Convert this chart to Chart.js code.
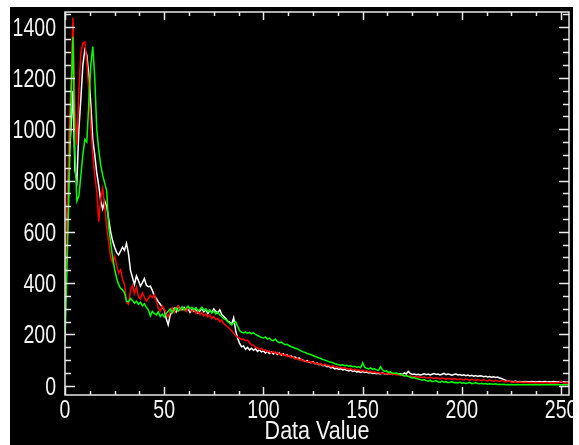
<!DOCTYPE html>
<html>
<head>
<meta charset="utf-8">
<script src="https://cdn.jsdelivr.net/npm/chart.js@4.4.1/dist/chart.umd.min.js"></script>
<style>
  html, body { margin: 0; padding: 0; background: #ffffff; }
  #box { position: absolute; left: 0; top: 0; width: 579px; height: 445px; }
</style>
</head>
<body>
<div id="box"><canvas id="hist"></canvas></div>
<script>
// histogram counts per data value (0..255)
var whiteCounts = [
  420, 620, 880, 1000, 1150, 840, 800, 1000, 1120, 1250,
  1310, 1290, 1210, 1100, 960, 900, 830, 780, 720, 690,
  720, 700, 650, 600, 565, 540, 520, 510, 525, 540,
  528, 555, 515, 450, 422, 395, 428, 410, 388, 402,
  418, 392, 386, 388, 372, 350, 340, 328, 318, 306,
  298, 262, 238, 275, 290, 302, 288, 310, 300, 296,
  306, 292, 300, 286, 296, 290, 298, 284, 292, 300,
  288, 296, 282, 294, 286, 300, 290, 284, 296, 278,
  270, 262, 252, 248, 240, 265, 215, 185, 165, 152,
  155, 142, 150, 140, 146, 138, 144, 134, 140, 132,
  136, 128, 134, 126, 132, 124, 130, 122, 128, 120,
  124, 118, 120, 114, 116, 110, 112, 106, 108, 102,
  100, 96, 98, 92, 90, 94, 86, 88, 82, 84,
  78, 80, 74, 76, 70, 72, 66, 68, 64, 66,
  62, 64, 60, 58, 62, 56, 58, 54, 56, 52,
  55, 52, 54, 50, 52, 48, 50, 47, 49, 46,
  50, 46, 48, 45, 47, 44, 46, 48, 45, 47,
  44, 50, 46, 56, 48, 44, 46, 43, 45, 42,
  44, 47, 43, 46, 42, 45, 48, 44, 46, 42,
  45, 48, 43, 46, 44, 41, 44, 46, 42, 44,
  40, 43, 39, 42, 38, 41, 37, 40, 36, 39,
  38, 35, 37, 34, 36, 33, 35, 32, 34, 30,
  28, 25, 22, 20, 18, 17, 16, 18, 15, 17,
  16, 15, 17, 16, 15, 17, 16, 15, 16, 17,
  15, 16, 17, 15, 16, 15, 17, 16, 15, 16,
  15, 16, 15, 14, 15, 14
];
var redCounts = [
  330, 640, 980, 1180, 1435, 1080, 940, 1150, 1300, 1335,
  1340, 1260, 1150, 1010, 900, 820, 760, 640, 730, 770,
  700, 620, 560, 500, 480, 505, 470, 440, 452, 415,
  395, 325, 318, 372, 392, 360, 385, 348, 338, 362,
  345, 330, 340, 352, 344, 356, 330, 302, 290, 312,
  298, 280, 268, 292, 304, 285, 300, 312, 294, 306,
  300, 290, 305, 296, 288, 300, 282, 292, 278, 286,
  272, 280, 268, 276, 262, 270, 258, 262, 250, 256,
  242, 236, 230, 222, 214, 205, 196, 190, 186, 180,
  182, 176, 178, 168, 160, 158, 150, 148, 142, 146,
  138, 140, 132, 136, 128, 134, 126, 130, 122, 126,
  118, 122, 114, 118, 110, 112, 104, 108, 100, 104,
  96, 98, 92, 95, 90, 92, 86, 88, 84, 86,
  80, 84, 78, 80, 74, 78, 72, 74, 70, 72,
  68, 70, 66, 64, 68, 62, 64, 60, 62, 58,
  60, 56, 58, 54, 56, 52, 54, 50, 52, 48,
  50, 47, 49, 45, 47, 44, 46, 42, 44, 41,
  42, 39, 40, 37, 38, 35, 36, 34, 35, 33,
  32, 34, 31, 30, 33, 30, 28, 31, 29, 27,
  30, 28, 26, 29, 27, 25, 28, 26, 24, 27,
  25, 23, 26, 24, 22, 25, 23, 21, 24, 22,
  20, 23, 21, 19, 22, 20, 18, 21, 19, 17,
  20, 18, 16, 19, 17, 15, 14, 16, 13, 15,
  14, 12, 14, 13, 12, 13, 12, 11, 13, 12,
  12, 11, 12, 13, 11, 12, 11, 12, 11, 12,
  18, 12, 11, 12, 11, 12
];
var greenCounts = [
  170, 460, 760, 1100, 1360, 900, 720, 740, 820, 900,
  960, 950, 1100, 1250, 1322, 1200, 1000, 920, 860, 820,
  790, 760, 620, 560, 500, 455, 420, 395, 380, 374,
  362, 330, 327, 340, 332, 322, 330, 318, 326, 312,
  320, 306, 296, 272, 290, 282, 276, 288, 270, 280,
  268, 282, 290, 300, 284, 296, 304, 290, 298, 308,
  296, 302, 310, 300, 306, 296, 304, 292, 298, 306,
  294, 300, 288, 296, 284, 292, 280, 288, 276, 270,
  262, 258, 250, 244, 238, 245, 250, 232, 215, 208,
  206, 210, 204, 208, 202, 207, 200, 196, 192, 188,
  186, 190, 182, 186, 178, 176, 182, 172, 168, 170,
  164, 160, 162, 156, 152, 150, 146, 144, 140, 136,
  132, 130, 126, 124, 121, 118, 114, 112, 108, 106,
  102, 100, 97, 94, 92, 90, 86, 84, 82, 80,
  82, 78, 80, 76, 78, 74, 76, 72, 74, 70,
  90, 72, 68, 66, 70, 64, 66, 62, 60, 74,
  62, 56, 58, 52, 54, 50, 48, 50, 46, 44,
  42, 38, 40, 36, 34, 30, 32, 28, 26, 24,
  22, 24, 20, 18, 22, 16, 18, 20, 15, 14,
  18, 14, 16, 12, 14, 16, 12, 13, 11, 14,
  10, 12, 9, 11, 13, 8, 10, 12, 9, 8,
  10, 7, 9, 6, 8, 7, 6, 8, 5, 6,
  5, 6, 4, 5, 4, 5, 4, 4, 5, 4,
  4, 4, 4, 4, 4, 4, 4, 4, 4, 4,
  4, 4, 4, 4, 4, 4, 4, 4, 4, 4,
  4, 4, 4, 4, 4, 4
];
var xTicks = [0, 50, 100, 150, 200, 250];
var yTicks = [0, 200, 400, 600, 800, 1000, 1200, 1400];
var xTitle = "Data Value";

var axisColor = "#e8e8e8";
var labelFont = "25px 'Liberation Sans', 'DejaVu Sans', sans-serif";

function toPoints(arr){
	var pts = [];
	for(var i=0;i<arr.length;i++){
		pts.push({x: i, y: arr[i]});
	}
	return pts;
}

// narrow text, like the old vector font
function narrowText(c, txt, x, y, align, sx){
	c.save();
	c.translate(x, y);
	c.scale(sx, 1);
	c.textAlign = align;
	c.textBaseline = 'alphabetic';
	c.fillText(txt, 0, 0);
	c.restore();
}

// black panel + boxed axes with inward ticks (like the IDL plot)
var idlFrame = {
	id: 'idlFrame',
	beforeDraw: function(chart){
		var c = chart.ctx;
		c.save();
		c.fillStyle = '#000000';
		c.fillRect(10, 7, 563, 438);
		c.restore();
	},
	afterDatasetsDraw: function(chart){
		var c = chart.ctx, a = chart.chartArea;
		var xs = chart.scales.x, ys = chart.scales.y;
		c.save();
		c.strokeStyle = axisColor;
		c.lineWidth = 1.5;
		c.strokeRect(a.left, a.top, a.right - a.left, a.bottom - a.top);
		c.beginPath();
		for(var v=0; v<=xs.max; v+=12.5){
			var px = Math.round(xs.getPixelForValue(v)) + 0.5;
			var len = (v % 50 == 0) ? 8 : 4;
			c.moveTo(px, a.bottom); c.lineTo(px, a.bottom - len);
			c.moveTo(px, a.top); c.lineTo(px, a.top + len);
		}
		for(var w=0; w<=ys.max; w+=50){
			var py = Math.round(ys.getPixelForValue(w)) + 0.5;
			var l2 = (w % 200 == 0) ? 10 : 6;
			c.moveTo(a.left, py); c.lineTo(a.left + l2, py);
			c.moveTo(a.right, py); c.lineTo(a.right - l2, py);
		}
		c.stroke();

		// tick labels and title
		c.fillStyle = '#f4f4f4';
		c.font = labelFont;
		for(var i=0;i<yTicks.length;i++){
			narrowText(c, String(yTicks[i]), a.left - 9, ys.getPixelForValue(yTicks[i]) + 9, 'right', 0.78);
		}
		for(var j=0;j<xTicks.length;j++){
			narrowText(c, String(xTicks[j]), xs.getPixelForValue(xTicks[j]), a.bottom + 23, 'center', 0.78);
		}
		narrowText(c, xTitle, (a.left + a.right) / 2, a.bottom + 44, 'center', 0.86);
		c.restore();
	}
};

var ctx = document.getElementById('hist').getContext('2d');
var chart = new Chart(ctx, {
	type: 'line',
	data: {
		datasets: [
			{ label: 'green', data: toPoints(greenCounts), borderColor: '#00ff00', borderWidth: 1.5, pointRadius: 0, tension: 0, fill: false },
			{ label: 'red', data: toPoints(redCounts), borderColor: '#ff0000', borderWidth: 1.5, pointRadius: 0, tension: 0, fill: false },
			{ label: 'white', data: toPoints(whiteCounts), borderColor: '#ffffff', borderWidth: 1.5, pointRadius: 0, tension: 0, fill: false }
		]
	},
	options: {
		responsive: true,
		maintainAspectRatio: false,
		animation: false,
		layout: { padding: { left: 0, right: 10, top: 12, bottom: 0 } },
		plugins: { legend: { display: false }, tooltip: { enabled: false } },
		scales: {
			x: {
				type: 'linear', min: 0, max: 254,
				afterFit: function(s){ s.height = 50; },
				grid: { display: false },
				border: { display: false },
				ticks: { display: false }
			},
			y: {
				type: 'linear', min: -36, max: 1457,
				afterFit: function(s){ s.width = 65; },
				grid: { display: false },
				border: { display: false },
				ticks: { display: false }
			}
		}
	},
	plugins: [idlFrame]
});
</script>
</body>
</html>
